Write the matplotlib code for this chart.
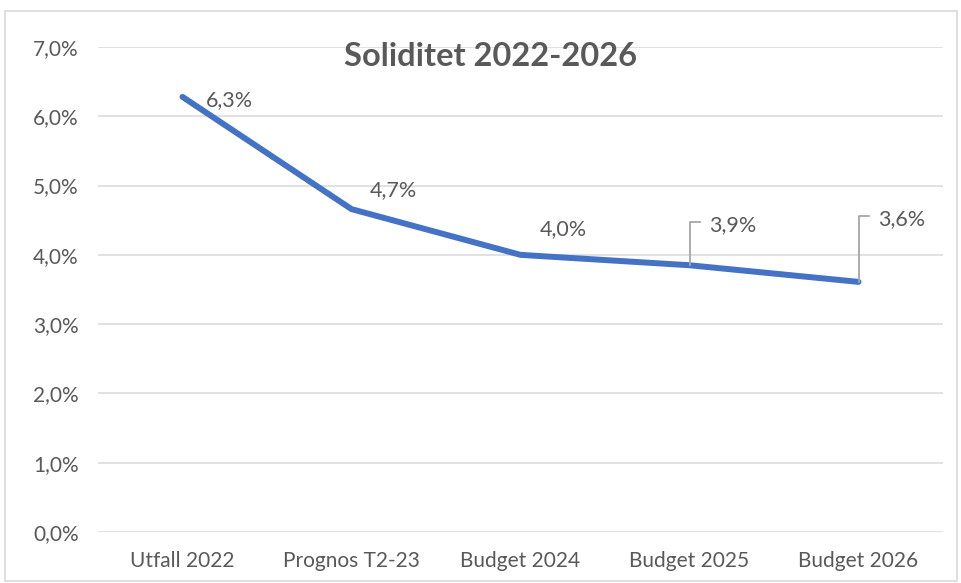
import matplotlib
matplotlib.use("Agg")
import matplotlib.pyplot as plt
from matplotlib.patches import Rectangle
from matplotlib.lines import Line2D
from matplotlib.transforms import IdentityTransform
from matplotlib.ticker import FuncFormatter

categories = ["Utfall 2022", "Prognos T2-23", "Budget 2024", "Budget 2025", "Budget 2026"]
values = [0.0628, 0.0466, 0.0400, 0.0385, 0.0361]
labels = ["6,3%", "4,7%", "4,0%", "3,9%", "3,6%"]
yticks = [0.0, 0.01, 0.02, 0.03, 0.04, 0.05, 0.06, 0.07]

plt.rcParams['font.family'] = ['Lato', 'DejaVu Sans']
W, H = 962, 583
fig = plt.figure(figsize=(W / 100, H / 100), dpi=100)
ax = fig.add_axes([98 / W, (H - 532) / H, 845 / W, (532 - 47) / H])

grey = "#595959"
x = list(range(len(categories)))
ax.plot(x, values, color="#4472C4", lw=4.3, solid_capstyle="round", solid_joinstyle="round", zorder=3)
ax.set_xlim(-0.5, len(categories) - 0.5)
ax.set_ylim(0, 0.07)
ax.set_yticks(yticks)
ax.yaxis.set_major_formatter(FuncFormatter(lambda v, p: f"{v*100:.1f}%".replace(".", ",")))
ax.set_xticks(x)
ax.set_xticklabels(categories)
ax.tick_params(axis="both", length=0, labelsize=15, labelcolor=grey)
ax.tick_params(axis="y", pad=14)
ax.tick_params(axis="x", pad=14)
ax.grid(axis="y", color="#D9D9D9", lw=1.1)
ax.set_axisbelow(True)
for s in ax.spines.values():
    s.set_visible(False)

fig.text(491 / W, (H - 57) / H, "Soliditet 2022-2026", ha="center", va="center",
         fontsize=23.5, fontweight="bold", color=grey)

# data labels: offsets in pixels
offsets = [(23, -3), (18, 19), (19, 26), (20, 40), (20, 63)]
leaders = [False, False, False, True, True]
fig.canvas.draw()
for i, (v, lab, (dx, dy), ld) in enumerate(zip(values, labels, offsets, leaders)):
    ax.annotate(lab, (i, v), xytext=(dx, dy), textcoords="offset pixels",
                ha="left", va="center", fontsize=15.5, color=grey)
    if ld:
        px, py = ax.transData.transform((i, v))
        h = dy + 3
        fig.add_artist(Line2D([px, px, px + 10], [py, py + h, py + h],
                              transform=IdentityTransform(), color="#A6A6A6", lw=1.3))

fig.add_artist(Rectangle((5, 2), W - 10, H - 13, transform=IdentityTransform(),
                         fill=False, edgecolor="#D9D9D9", lw=1.2))

fig.savefig("out.png", dpi=100)
